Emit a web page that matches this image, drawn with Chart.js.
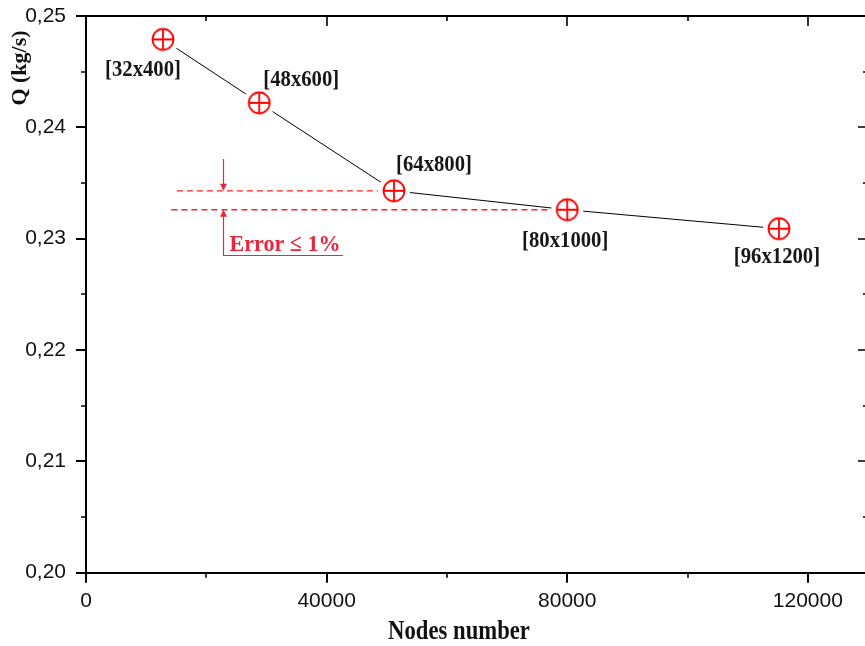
<!DOCTYPE html>
<html>
<head>
  <title>Mesh convergence - Q vs nodes</title>
  <script src="https://cdn.jsdelivr.net/npm/chart.js"></script>
  <style>
    html, body {
      margin: 0;
      padding: 0;
      background: #fff;
      width: 865px;
      height: 646px;
      overflow: hidden;
    }
    #box {
      width: 872px;
      height: 646px;
    }
  </style>
</head>
<body>
<div id="box">
  <canvas id="mesh_chart" width="872" height="646"></canvas>
</div>

<script>
  // Grid sizes and the flow rate they give
  const nodes = [12800, 28800, 51200, 80000, 115200];
  const flowRate = [0.2479, 0.2422, 0.2343, 0.2326, 0.2309];
  const meshLabels = ['[32x400]', '[48x600]', '[64x800]', '[80x1000]', '[96x1200]'];

  const xTicks = [0, 40000, 80000, 120000];
  const yTicks = [0.20, 0.21, 0.22, 0.23, 0.24, 0.25];
  const xMin = 0, xMax = 130000, xMinorStep = 20000;
  const yMin = 0.20, yMax = 0.25, yMinorStep = 0.005;

  // error band between the 64x800 and 80x1000 grids
  const errorText = 'Error \u2264 1%';
  const errorBandStart = [15100, 14200];
  const errorArrowX = 22800;
  const errorArrowTop = 0.23716;
  const errorArrowBottom = 0.22853;
  const errorLineEnd = 42700;

  const RED = '#ff2020';
  const TEXT_RED = '#e8263c';

  // circle with a cross, on a white disc so the line stops short of it
  function makeMarker() {
    const c = document.createElement('canvas');
    c.width = 36;
    c.height = 36;
    const g = c.getContext('2d');
    g.fillStyle = '#fff';
    g.beginPath();
    g.arc(18, 18, 16, 0, 2 * Math.PI);
    g.fill();
    g.strokeStyle = '#ff0000';
    g.lineWidth = 1.8;
    g.beginPath();
    g.arc(18, 18, 10.5, 0, 2 * Math.PI);
    g.stroke();
    g.beginPath();
    g.moveTo(7.5, 18); g.lineTo(28.5, 18);
    g.moveTo(18, 7.5); g.lineTo(18, 28.5);
    g.stroke();
    return c;
  }

  function drawCondensed(ctx, text, x, y, font, sx) {
    ctx.save();
    ctx.font = font;
    ctx.translate(x, y);
    ctx.scale(sx, 1);
    ctx.fillText(text, 0, 0);
    ctx.restore();
  }

  const extrasPlugin = {
    id: 'extras',
    afterDraw(chart) {
      const ctx = chart.ctx;
      const a = chart.chartArea;
      const xs = chart.scales.x, ys = chart.scales.y;
      ctx.save();

      // top and right frame with inward ticks, plus minor ticks
      ctx.strokeStyle = '#000';
      ctx.lineWidth = 2;
      ctx.beginPath();
      ctx.moveTo(a.left, a.top);
      ctx.lineTo(a.right, a.top);
      ctx.lineTo(a.right, a.bottom);
      ctx.stroke();

      ctx.lineWidth = 1.6;
      ctx.beginPath();
      for (let v = xMin; v <= xMax; v += xMinorStep) {
        const px = Math.round(xs.getPixelForValue(v));
        const major = xTicks.includes(v);
        if (!major) {
          ctx.moveTo(px, a.bottom);
          ctx.lineTo(px, a.bottom + 5);
        }
        ctx.moveTo(px, a.top);
        ctx.lineTo(px, a.top + (major ? 10 : 5));
      }
      for (let i = 0; i <= Math.round((yMax - yMin) / yMinorStep); i++) {
        const v = yMin + i * yMinorStep;
        const py = Math.round(ys.getPixelForValue(v));
        const major = i % 2 === 0;
        if (!major) {
          ctx.moveTo(a.left, py);
          ctx.lineTo(a.left - 5, py);
        }
        ctx.moveTo(a.right, py);
        ctx.lineTo(a.right - (major ? 10 : 5), py);
      }
      ctx.stroke();

      // grid size labels next to each point
      const offsets = [[-20, 31], [42, -23], [40, -26], [-2, 31], [-2, 28]];
      ctx.fillStyle = '#161616';
      ctx.textAlign = 'center';
      ctx.textBaseline = 'middle';
      meshLabels.forEach((t, i) => {
        const px = xs.getPixelForValue(nodes[i]) + offsets[i][0];
        const py = ys.getPixelForValue(flowRate[i]) + offsets[i][1];
        drawCondensed(ctx, t, px, py, 'bold 23px "Liberation Serif"', 0.9);
      });

      // error arrows
      const ax = Math.round(xs.getPixelForValue(errorArrowX)) + 0.5;
      const yHi = ys.getPixelForValue(flowRate[2]);
      const yLo = ys.getPixelForValue(flowRate[3]);
      const yTop = ys.getPixelForValue(errorArrowTop);
      const yBot = Math.round(ys.getPixelForValue(errorArrowBottom)) + 0.5;
      const xEnd = xs.getPixelForValue(errorLineEnd);
      ctx.strokeStyle = TEXT_RED;
      ctx.fillStyle = TEXT_RED;
      ctx.lineWidth = 1.2;
      ctx.beginPath();
      ctx.moveTo(ax, yTop); ctx.lineTo(ax, yHi - 4);
      ctx.moveTo(ax, yLo + 4); ctx.lineTo(ax, yBot);
      ctx.lineTo(xEnd, yBot);
      ctx.stroke();
      ctx.beginPath();
      ctx.moveTo(ax, yHi); ctx.lineTo(ax - 3.5, yHi - 7); ctx.lineTo(ax + 3.5, yHi - 7); ctx.closePath();
      ctx.moveTo(ax, yLo); ctx.lineTo(ax - 3.5, yLo + 7); ctx.lineTo(ax + 3.5, yLo + 7); ctx.closePath();
      ctx.fill();
      ctx.textAlign = 'left';
      ctx.textBaseline = 'alphabetic';
      drawCondensed(ctx, errorText, ax + 6, yBot - 5, 'bold 24px "Liberation Serif"', 0.92);

      // axis titles
      ctx.fillStyle = '#111';
      ctx.textAlign = 'center';
      ctx.textBaseline = 'middle';
      drawCondensed(ctx, 'Nodes number', 459, 632, 'bold 28px "Liberation Serif"', 0.81);
      ctx.save();
      ctx.translate(20, 68);
      ctx.rotate(-Math.PI / 2);
      ctx.font = 'bold 22px "Liberation Serif"';
      ctx.fillText('Q (kg/s)', 0, 0);
      ctx.restore();

      ctx.restore();
    }
  };

  const marker = makeMarker();
  const ctx = document.getElementById('mesh_chart').getContext('2d');
  const meshChart = new Chart(ctx, {
    type: 'line',
    data: {
      datasets: [{
        label: 'Q',
        data: nodes.map((n, i) => ({ x: n, y: flowRate[i] })),
        borderColor: '#000',
        borderWidth: 1,
        pointStyle: marker,
        pointRadius: 18,
        tension: 0,
        order: 1
      }, {
        label: 'upper',
        data: [{ x: errorBandStart[0], y: flowRate[2] }, { x: nodes[2], y: flowRate[2] }],
        borderColor: RED,
        borderWidth: 1.3,
        borderDash: [6, 4],
        pointRadius: 0,
        order: 2
      }, {
        label: 'lower',
        data: [{ x: errorBandStart[1], y: flowRate[3] }, { x: nodes[3], y: flowRate[3] }],
        borderColor: RED,
        borderWidth: 1.3,
        borderDash: [6, 4],
        pointRadius: 0,
        order: 2
      }]
    },
    options: {
      responsive: false,
      animation: false,
      layout: { autoPadding: false, padding: { top: 16, right: 4, left: 0, bottom: 0 } },
      plugins: {
        legend: { display: false },
        tooltip: { enabled: false }
      },
      scales: {
        x: {
          type: 'linear',
          min: xMin,
          max: xMax,
          afterBuildTicks: s => { s.ticks = xTicks.map(v => ({ value: v })); },
          afterFit: s => { s.height = 73.3; s.paddingLeft = 0; s.paddingRight = 0; },
          ticks: {
            autoSkip: false,
            maxRotation: 0,
            color: '#111',
            padding: 6,
            font: { family: 'Liberation Sans', size: 21 },
            callback: v => String(v)
          },
          grid: { drawOnChartArea: false, tickLength: 10, color: '#000', lineWidth: 2 },
          border: { color: '#000', width: 2 }
        },
        y: {
          min: yMin,
          max: yMax,
          afterBuildTicks: s => { s.ticks = yTicks.map(v => ({ value: v })); },
          afterFit: s => { s.width = 86; s.paddingTop = 0; s.paddingBottom = 0; },
          ticks: {
            autoSkip: false,
            color: '#111',
            padding: 10,
            font: { family: 'Liberation Sans', size: 21 },
            callback: v => v.toFixed(2).replace('.', ',')
          },
          grid: { drawOnChartArea: false, tickLength: 10, color: '#000', lineWidth: 2 },
          border: { color: '#000', width: 2 }
        }
      }
    },
    plugins: [extrasPlugin]
  });
</script>
</body>
</html>
